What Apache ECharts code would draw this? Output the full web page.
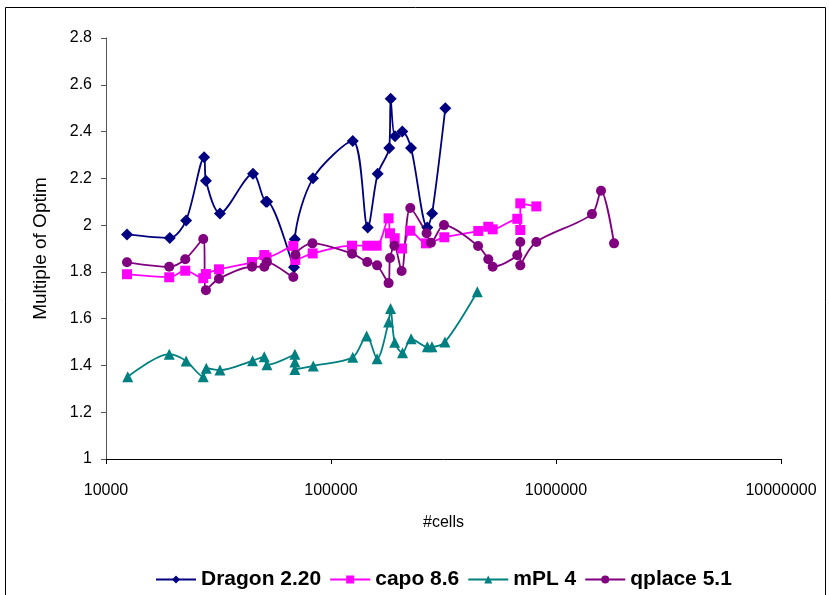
<!DOCTYPE html>
<html>
<head>
<meta charset="utf-8">
<script src="https://cdn.jsdelivr.net/npm/echarts@6/dist/echarts.min.js"></script>
<style>
  html, body { margin: 0; padding: 0; background: #fff; }
  #chart { width: 829px; height: 595px; }
</style>
</head>
<body>
<div id="chart"></div>
<script>
const dragonCells = [12400, 19200, 22700, 27300, 27800, 32100, 45000, 51400, 52000, 68500, 69000, 83200, 124900, 145600, 161300, 181500, 184200, 192500, 207500, 226800, 268000, 281500, 322200]
const dragonRatio = [1.96, 1.945, 2.02, 2.29, 2.19, 2.05, 2.22, 2.10, 2.10, 1.82, 1.94, 2.20, 2.36, 1.99, 2.22, 2.33, 2.54, 2.38, 2.40, 2.33, 1.99, 2.05, 2.50]

const capoCells = [12400, 19100, 22500, 27060, 27800, 31770, 44560, 50530, 51700, 67990, 69400, 82900, 124000, 144900, 159600, 180300, 182900, 191900, 206800, 225100, 264400, 318900, 451500, 500100, 523100, 673000, 694000, 694000, 817600]
const capoRatio = [1.79, 1.777, 1.805, 1.773, 1.791, 1.811, 1.842, 1.872, 1.862, 1.911, 1.851, 1.879, 1.912, 1.912, 1.912, 2.029, 1.965, 1.944, 1.90, 1.976, 1.922, 1.948, 1.975, 1.993, 1.982, 2.027, 1.979, 2.093, 2.08]

const mplCells = [12490, 19100, 22700, 27060, 27900, 32100, 44800, 50500, 51900, 69100, 69100, 69100, 83400, 124900, 144000, 160300, 180300, 184000, 191900, 208000, 227000, 268000, 281000, 321000, 447000]
const mplRatio = [1.352, 1.448, 1.419, 1.352, 1.388, 1.38, 1.42, 1.437, 1.403, 1.448, 1.415, 1.383, 1.398, 1.435, 1.526, 1.429, 1.586, 1.644, 1.499, 1.454, 1.514, 1.48, 1.48, 1.5, 1.715]

const qplaceCells = [12400, 19100, 22500, 27060, 27800, 31770, 44560, 50530, 51900, 67990, 69500, 82700, 124000, 144900, 160300, 180300, 182900, 191300, 206000, 225100, 266000, 278000, 317800, 450500, 500100, 523100, 673000, 694000, 694000, 817600, 1445000, 1585000, 1811000]
const qplaceRatio = [1.841, 1.822, 1.854, 1.941, 1.722, 1.771, 1.822, 1.822, 1.842, 1.778, 1.873, 1.922, 1.878, 1.842, 1.828, 1.752, 1.859, 1.912, 1.804, 2.073, 1.965, 1.925, 2.0, 1.911, 1.854, 1.822, 1.871, 1.928, 1.828, 1.928, 2.047, 2.147, 1.922]

const seriesNames = ['Dragon 2.20', 'capo 8.6', 'mPL 4', 'qplace 5.1']

function pairs(xs, ys) {
  return xs.map((x, i) => [x, ys[i]])
}

function makeSeries(name, xs, ys, color, symbol, size) {
  return {
    name,
    type: 'line',
    data: pairs(xs, ys),
    smooth: 0.3,
    symbol,
    symbolSize: size,
    lineStyle: { color, width: 1.8 },
    itemStyle: { color },
    emphasis: { disabled: true },
    z: 3
  }
}

const chart = echarts.init(document.getElementById('chart'))

chart.setOption({
  animation: false,
  textStyle: { fontFamily: 'Arial, "Liberation Sans", sans-serif' },
  graphic: [{
    type: 'rect',
    shape: { x: 5.5, y: 7.5, width: 820, height: 620 },
    style: { fill: 'none', stroke: '#000', lineWidth: 1 },
    silent: true
  }],
  grid: { left: 106, right: 48, top: 38, bottom: 136, containLabel: false },
  legend: {
    data: seriesNames,
    left: 150,
    top: 564,
    itemWidth: 40,
    itemHeight: 10,
    itemGap: 8,
    textStyle: { fontSize: 21, fontWeight: 'bold', color: '#000' }
  },
  xAxis: {
    type: 'log',
    logBase: 10,
    min: 10000,
    max: 10000000,
    name: '#cells',
    nameLocation: 'middle',
    nameGap: 56,
    nameTextStyle: { fontSize: 16, color: '#000' },
    axisLine: { lineStyle: { color: '#000', width: 1 } },
    axisTick: { length: 5, lineStyle: { color: '#000' } },
    axisLabel: {
      fontSize: 16,
      color: '#000',
      margin: 24,
      formatter: v => String(Math.round(v))
    },
    splitLine: { show: false },
    minorTick: { show: false }
  },
  yAxis: {
    type: 'value',
    min: 1,
    max: 2.8,
    interval: 0.2,
    name: 'Multiple of Optima',
    nameLocation: 'middle',
    nameGap: 56,
    nameRotate: 90,
    nameTruncate: { maxWidth: 150, ellipsis: '' },
    nameTextStyle: { fontSize: 19, color: '#000' },
    axisLine: { show: true, lineStyle: { color: '#555', width: 1 } },
    axisTick: { show: true, length: 5, lineStyle: { color: '#555' } },
    axisLabel: { fontSize: 16, color: '#000', margin: 14 },
    splitLine: { show: false }
  },
  series: [
    makeSeries('Dragon 2.20', dragonCells, dragonRatio, '#000080', 'diamond', 12),
    makeSeries('capo 8.6', capoCells, capoRatio, '#FF00FF', 'rect', 10),
    makeSeries('mPL 4', mplCells, mplRatio, '#008080', 'triangle', 11),
    makeSeries('qplace 5.1', qplaceCells, qplaceRatio, '#800080', 'circle', 10)
  ]
})
</script>
</body>
</html>
